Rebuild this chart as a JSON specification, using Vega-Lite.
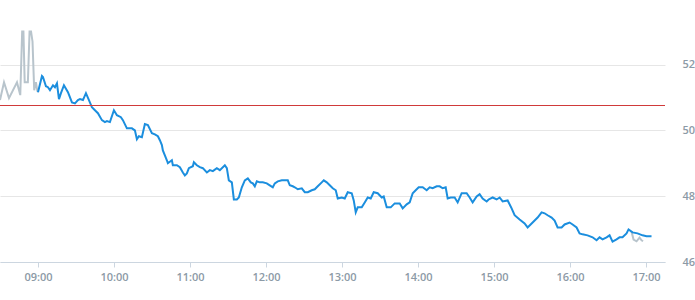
{
  "width": 665,
  "height": 262,
  "autosize": "none",
  "padding": {"left": 0, "top": 0, "right": 30, "bottom": 38},
  "config": {
    "view": {"stroke": null},
    "axis": {"labelFont": "Open Sans", "labelFontWeight": 600, "labelFontSize": 11, "labelColor": "#8c9aa6"},
    "axisX": {"format": "%H:%M", "tickCount": 8, "grid": false, "domainColor": "#ccd6e0", "tickColor": "#ccd6e0", "tickSize": 5, "labelPadding": 4, "labelFlush": false, "labelOverlap": false, "title": null},
    "axisY": {"ticks": false, "domain": false, "labelPadding": 17, "labelOverlap": false, "gridColor": "#e6e6e6", "title": null}
  },
  "datasets": {
    "pre": [
      {"t": "2024-01-02T08:30:00", "p": 50.92},
      {"t": "2024-01-02T08:33:10", "p": 51.46},
      {"t": "2024-01-02T08:37:06", "p": 50.98},
      {"t": "2024-01-02T08:43:24", "p": 51.46},
      {"t": "2024-01-02T08:46:00", "p": 51.07},
      {"t": "2024-01-02T08:47:30", "p": 53.0},
      {"t": "2024-01-02T08:48:30", "p": 53.0},
      {"t": "2024-01-02T08:49:30", "p": 51.46},
      {"t": "2024-01-02T08:52:00", "p": 51.46},
      {"t": "2024-01-02T08:53:20", "p": 53.0},
      {"t": "2024-01-02T08:54:30", "p": 53.0},
      {"t": "2024-01-02T08:55:40", "p": 52.7},
      {"t": "2024-01-02T08:57:00", "p": 51.22},
      {"t": "2024-01-02T08:58:20", "p": 51.46},
      {"t": "2024-01-02T08:59:30", "p": 51.2},
      {"t": "2024-01-02T09:00:00", "p": 51.16}
    ],
    "main": [
      {"t": "2024-01-02T09:00:00", "p": 51.16},
      {"t": "2024-01-02T09:03:08", "p": 51.65},
      {"t": "2024-01-02T09:03:55", "p": 51.62},
      {"t": "2024-01-02T09:06:17", "p": 51.34},
      {"t": "2024-01-02T09:07:52", "p": 51.31},
      {"t": "2024-01-02T09:09:27", "p": 51.22},
      {"t": "2024-01-02T09:11:49", "p": 51.37},
      {"t": "2024-01-02T09:13:23", "p": 51.31},
      {"t": "2024-01-02T09:14:58", "p": 51.43},
      {"t": "2024-01-02T09:16:33", "p": 50.95},
      {"t": "2024-01-02T09:18:07", "p": 51.13},
      {"t": "2024-01-02T09:20:29", "p": 51.37},
      {"t": "2024-01-02T09:23:39", "p": 51.16},
      {"t": "2024-01-02T09:26:48", "p": 50.85},
      {"t": "2024-01-02T09:29:10", "p": 50.82},
      {"t": "2024-01-02T09:31:32", "p": 50.92},
      {"t": "2024-01-02T09:33:07", "p": 50.95},
      {"t": "2024-01-02T09:35:29", "p": 50.92},
      {"t": "2024-01-02T09:37:51", "p": 51.13},
      {"t": "2024-01-02T09:40:13", "p": 50.92},
      {"t": "2024-01-02T09:42:35", "p": 50.70},
      {"t": "2024-01-02T09:44:57", "p": 50.61},
      {"t": "2024-01-02T09:47:19", "p": 50.52},
      {"t": "2024-01-02T09:50:28", "p": 50.31},
      {"t": "2024-01-02T09:52:50", "p": 50.25},
      {"t": "2024-01-02T09:54:25", "p": 50.28},
      {"t": "2024-01-02T09:56:47", "p": 50.25},
      {"t": "2024-01-02T09:59:56", "p": 50.61},
      {"t": "2024-01-02T10:02:18", "p": 50.46},
      {"t": "2024-01-02T10:05:27", "p": 50.40},
      {"t": "2024-01-02T10:07:02", "p": 50.31},
      {"t": "2024-01-02T10:10:11", "p": 50.06},
      {"t": "2024-01-02T10:14:08", "p": 50.06},
      {"t": "2024-01-02T10:16:30", "p": 50.00},
      {"t": "2024-01-02T10:18:05", "p": 49.73},
      {"t": "2024-01-02T10:19:39", "p": 49.82},
      {"t": "2024-01-02T10:22:01", "p": 49.79},
      {"t": "2024-01-02T10:24:23", "p": 50.19},
      {"t": "2024-01-02T10:26:45", "p": 50.16},
      {"t": "2024-01-02T10:29:55", "p": 49.91},
      {"t": "2024-01-02T10:32:17", "p": 49.88},
      {"t": "2024-01-02T10:34:39", "p": 49.82},
      {"t": "2024-01-02T10:36:13", "p": 49.70},
      {"t": "2024-01-02T10:37:48", "p": 49.55},
      {"t": "2024-01-02T10:38:35", "p": 49.39},
      {"t": "2024-01-02T10:40:10", "p": 49.24},
      {"t": "2024-01-02T10:41:44", "p": 49.09},
      {"t": "2024-01-02T10:42:32", "p": 49.00},
      {"t": "2024-01-02T10:45:41", "p": 49.09},
      {"t": "2024-01-02T10:46:28", "p": 48.94},
      {"t": "2024-01-02T10:49:38", "p": 48.94},
      {"t": "2024-01-02T10:52:00", "p": 48.88},
      {"t": "2024-01-02T10:54:22", "p": 48.72},
      {"t": "2024-01-02T10:55:57", "p": 48.63},
      {"t": "2024-01-02T10:57:31", "p": 48.69},
      {"t": "2024-01-02T10:59:06", "p": 48.85},
      {"t": "2024-01-02T11:02:15", "p": 48.91},
      {"t": "2024-01-02T11:03:03", "p": 49.03},
      {"t": "2024-01-02T11:05:25", "p": 48.94},
      {"t": "2024-01-02T11:07:47", "p": 48.88},
      {"t": "2024-01-02T11:10:09", "p": 48.85},
      {"t": "2024-01-02T11:13:18", "p": 48.72},
      {"t": "2024-01-02T11:15:40", "p": 48.79},
      {"t": "2024-01-02T11:18:02", "p": 48.76},
      {"t": "2024-01-02T11:21:11", "p": 48.85},
      {"t": "2024-01-02T11:23:33", "p": 48.79},
      {"t": "2024-01-02T11:27:30", "p": 48.94},
      {"t": "2024-01-02T11:29:05", "p": 48.85},
      {"t": "2024-01-02T11:30:40", "p": 48.48},
      {"t": "2024-01-02T11:33:02", "p": 48.42},
      {"t": "2024-01-02T11:34:37", "p": 47.90},
      {"t": "2024-01-02T11:36:59", "p": 47.90},
      {"t": "2024-01-02T11:38:33", "p": 47.96},
      {"t": "2024-01-02T11:40:55", "p": 48.27},
      {"t": "2024-01-02T11:43:17", "p": 48.48},
      {"t": "2024-01-02T11:45:39", "p": 48.54},
      {"t": "2024-01-02T11:48:01", "p": 48.42},
      {"t": "2024-01-02T11:49:36", "p": 48.39},
      {"t": "2024-01-02T11:51:10", "p": 48.30},
      {"t": "2024-01-02T11:52:45", "p": 48.45},
      {"t": "2024-01-02T11:55:07", "p": 48.42},
      {"t": "2024-01-02T11:57:29", "p": 48.42},
      {"t": "2024-01-02T12:00:38", "p": 48.39},
      {"t": "2024-01-02T12:03:00", "p": 48.33},
      {"t": "2024-01-02T12:05:22", "p": 48.27},
      {"t": "2024-01-02T12:06:57", "p": 48.39},
      {"t": "2024-01-02T12:09:19", "p": 48.45},
      {"t": "2024-01-02T12:12:28", "p": 48.48},
      {"t": "2024-01-02T12:14:50", "p": 48.48},
      {"t": "2024-01-02T12:17:12", "p": 48.48},
      {"t": "2024-01-02T12:18:47", "p": 48.33},
      {"t": "2024-01-02T12:21:09", "p": 48.30},
      {"t": "2024-01-02T12:22:43", "p": 48.27},
      {"t": "2024-01-02T12:25:05", "p": 48.21},
      {"t": "2024-01-02T12:28:15", "p": 48.24},
      {"t": "2024-01-02T12:30:37", "p": 48.12},
      {"t": "2024-01-02T12:32:59", "p": 48.12},
      {"t": "2024-01-02T12:36:08", "p": 48.18},
      {"t": "2024-01-02T12:38:30", "p": 48.21},
      {"t": "2024-01-02T12:40:52", "p": 48.30},
      {"t": "2024-01-02T12:44:01", "p": 48.42},
      {"t": "2024-01-02T12:45:36", "p": 48.48},
      {"t": "2024-01-02T12:47:58", "p": 48.42},
      {"t": "2024-01-02T12:50:20", "p": 48.33},
      {"t": "2024-01-02T12:52:42", "p": 48.24},
      {"t": "2024-01-02T12:55:04", "p": 48.18},
      {"t": "2024-01-02T12:56:39", "p": 47.93},
      {"t": "2024-01-02T12:59:48", "p": 47.96},
      {"t": "2024-01-02T13:02:10", "p": 47.93},
      {"t": "2024-01-02T13:04:32", "p": 48.12},
      {"t": "2024-01-02T13:07:41", "p": 48.09},
      {"t": "2024-01-02T13:09:16", "p": 47.87},
      {"t": "2024-01-02T13:10:51", "p": 47.51},
      {"t": "2024-01-02T13:12:25", "p": 47.66},
      {"t": "2024-01-02T13:15:35", "p": 47.66},
      {"t": "2024-01-02T13:17:57", "p": 47.81},
      {"t": "2024-01-02T13:20:19", "p": 47.96},
      {"t": "2024-01-02T13:22:41", "p": 47.93},
      {"t": "2024-01-02T13:25:03", "p": 48.12},
      {"t": "2024-01-02T13:28:12", "p": 48.09},
      {"t": "2024-01-02T13:31:22", "p": 47.96},
      {"t": "2024-01-02T13:32:56", "p": 47.99},
      {"t": "2024-01-02T13:35:18", "p": 47.66},
      {"t": "2024-01-02T13:38:28", "p": 47.66},
      {"t": "2024-01-02T13:41:37", "p": 47.78},
      {"t": "2024-01-02T13:45:34", "p": 47.78},
      {"t": "2024-01-02T13:47:56", "p": 47.63},
      {"t": "2024-01-02T13:51:05", "p": 47.75},
      {"t": "2024-01-02T13:53:27", "p": 47.81},
      {"t": "2024-01-02T13:55:49", "p": 48.09},
      {"t": "2024-01-02T13:58:11", "p": 48.18},
      {"t": "2024-01-02T14:00:33", "p": 48.27},
      {"t": "2024-01-02T14:03:42", "p": 48.27},
      {"t": "2024-01-02T14:06:51", "p": 48.18},
      {"t": "2024-01-02T14:09:13", "p": 48.27},
      {"t": "2024-01-02T14:11:35", "p": 48.24},
      {"t": "2024-01-02T14:14:45", "p": 48.30},
      {"t": "2024-01-02T14:17:07", "p": 48.30},
      {"t": "2024-01-02T14:19:29", "p": 48.24},
      {"t": "2024-01-02T14:21:51", "p": 48.27},
      {"t": "2024-01-02T14:23:26", "p": 47.93},
      {"t": "2024-01-02T14:25:48", "p": 47.96},
      {"t": "2024-01-02T14:28:57", "p": 47.96},
      {"t": "2024-01-02T14:31:19", "p": 47.81},
      {"t": "2024-01-02T14:34:28", "p": 48.09},
      {"t": "2024-01-02T14:38:25", "p": 48.09},
      {"t": "2024-01-02T14:40:47", "p": 47.96},
      {"t": "2024-01-02T14:43:09", "p": 47.81},
      {"t": "2024-01-02T14:46:18", "p": 47.99},
      {"t": "2024-01-02T14:48:40", "p": 48.06},
      {"t": "2024-01-02T14:51:02", "p": 47.93},
      {"t": "2024-01-02T14:54:12", "p": 47.84},
      {"t": "2024-01-02T14:55:46", "p": 47.90},
      {"t": "2024-01-02T14:58:56", "p": 47.96},
      {"t": "2024-01-02T15:02:05", "p": 47.90},
      {"t": "2024-01-02T15:04:27", "p": 47.96},
      {"t": "2024-01-02T15:06:49", "p": 47.84},
      {"t": "2024-01-02T15:10:46", "p": 47.87},
      {"t": "2024-01-02T15:13:55", "p": 47.63},
      {"t": "2024-01-02T15:16:17", "p": 47.42},
      {"t": "2024-01-02T15:20:14", "p": 47.29},
      {"t": "2024-01-02T15:24:10", "p": 47.17},
      {"t": "2024-01-02T15:26:32", "p": 47.05},
      {"t": "2024-01-02T15:29:42", "p": 47.17},
      {"t": "2024-01-02T15:32:04", "p": 47.26},
      {"t": "2024-01-02T15:34:26", "p": 47.35},
      {"t": "2024-01-02T15:37:35", "p": 47.51},
      {"t": "2024-01-02T15:39:57", "p": 47.48},
      {"t": "2024-01-02T15:42:19", "p": 47.42},
      {"t": "2024-01-02T15:45:29", "p": 47.35},
      {"t": "2024-01-02T15:47:51", "p": 47.26},
      {"t": "2024-01-02T15:50:13", "p": 47.05},
      {"t": "2024-01-02T15:53:22", "p": 47.05},
      {"t": "2024-01-02T15:55:44", "p": 47.14},
      {"t": "2024-01-02T15:59:41", "p": 47.20},
      {"t": "2024-01-02T16:02:03", "p": 47.14},
      {"t": "2024-01-02T16:05:12", "p": 47.05},
      {"t": "2024-01-02T16:07:34", "p": 46.87},
      {"t": "2024-01-02T16:09:56", "p": 46.84},
      {"t": "2024-01-02T16:13:53", "p": 46.81},
      {"t": "2024-01-02T16:17:49", "p": 46.75},
      {"t": "2024-01-02T16:20:59", "p": 46.66},
      {"t": "2024-01-02T16:23:21", "p": 46.75},
      {"t": "2024-01-02T16:25:43", "p": 46.69},
      {"t": "2024-01-02T16:28:52", "p": 46.75},
      {"t": "2024-01-02T16:31:14", "p": 46.81},
      {"t": "2024-01-02T16:33:36", "p": 46.62},
      {"t": "2024-01-02T16:36:45", "p": 46.69},
      {"t": "2024-01-02T16:39:07", "p": 46.75},
      {"t": "2024-01-02T16:41:29", "p": 46.75},
      {"t": "2024-01-02T16:44:38", "p": 46.87},
      {"t": "2024-01-02T16:46:13", "p": 46.99},
      {"t": "2024-01-02T16:49:22", "p": 46.90},
      {"t": "2024-01-02T16:53:19", "p": 46.87},
      {"t": "2024-01-02T16:57:16", "p": 46.81},
      {"t": "2024-01-02T17:00:26", "p": 46.78},
      {"t": "2024-01-02T17:04:22", "p": 46.78}
    ],
    "post": [
      {"t": "2024-01-02T16:48:35", "p": 46.92},
      {"t": "2024-01-02T16:50:10", "p": 46.68},
      {"t": "2024-01-02T16:52:32", "p": 46.63},
      {"t": "2024-01-02T16:54:54", "p": 46.74},
      {"t": "2024-01-02T16:56:30", "p": 46.66},
      {"t": "2024-01-02T16:57:40", "p": 46.63}
    ],
    "ref": [{"r": 50.755}]
  },
  "layer": [
    {
      "data": {"name": "pre"},
      "mark": {"type": "line", "color": "#b8c4cc", "strokeWidth": 2},
      "encoding": {
        "x": {
          "field": "t", "type": "temporal",
          "scale": {"domain": [
            {"year": 2024, "month": 1, "date": 2, "hours": 8, "minutes": 30},
            {"year": 2024, "month": 1, "date": 2, "hours": 17, "minutes": 15}
          ]}
        },
        "y": {
          "field": "p", "type": "quantitative",
          "scale": {"domain": [46, 53.96], "nice": false, "zero": false},
          "axis": {"orient": "right", "values": [46, 47, 48, 49, 50, 51, 52, 53]}
        }
      }
    },
    {
      "data": {"name": "post"},
      "mark": {"type": "line", "color": "#b8c4cc", "strokeWidth": 2},
      "encoding": {
        "x": {"field": "t", "type": "temporal"},
        "y": {"field": "p", "type": "quantitative", "axis": {"orient": "right", "values": [46, 47, 48, 49, 50, 51, 52, 53]}}
      }
    },
    {
      "data": {"name": "main"},
      "mark": {"type": "line", "color": "#1b8ede", "strokeWidth": 2},
      "encoding": {
        "x": {"field": "t", "type": "temporal"},
        "y": {"field": "p", "type": "quantitative", "axis": {"orient": "right", "values": [46, 47, 48, 49, 50, 51, 52, 53]}}
      }
    },
    {
      "data": {"name": "ref"},
      "mark": {"type": "rule", "color": "#d03a3a", "strokeWidth": 1.2},
      "encoding": {
        "y": {"field": "r", "type": "quantitative"}
      }
    }
  ]
}
